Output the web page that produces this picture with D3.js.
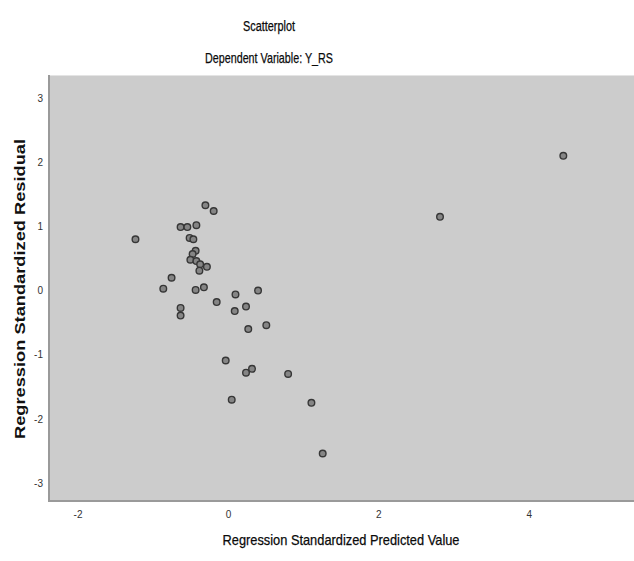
<!DOCTYPE html>
<html><head><meta charset="utf-8">
<script src="https://d3js.org/d3.v7.min.js"></script>
<style>
body{margin:0;background:#fff;}
</style>
</head>
<body>
<script>
// predicted (x) and residual (y) values
predVals=[-1.23,-0.30,-0.19,-0.63,-0.54,-0.42,-0.51,-0.46,-0.43,-0.47,-0.50,-0.42,-0.37,-0.38,-0.28,
  -0.75,-0.86,-0.43,-0.32,-0.63,-0.63,-0.15,0.10,0.09,0.24,0.40,0.27,0.51,-0.03,0.24,0.32,0.80,0.05,1.11,1.26,2.82,4.46];
residVals=[0.80,1.33,1.24,0.99,0.99,1.02,0.82,0.80,0.62,0.57,0.48,0.46,0.41,0.31,0.37,
  0.20,0.03,0.01,0.05,-0.27,-0.39,-0.18,-0.06,-0.32,-0.25,0.00,-0.60,-0.54,-1.09,-1.28,-1.22,-1.30,-1.70,-1.75,-2.54,1.15,2.10];
xTicks=[-2,0,2,4];
yTicks=[-3,-2,-1,0,1,2,3];

var W=634,H=561;
// plot box (note: "top" is taken by window.top, so prefix them)
var pL=49,pR=634,pT=75,pB=501;

var svg=d3.select("body").append("svg")
.attr("width",W)
.attr("height",H);

var x=d3.scaleLinear().domain([-2.38,5.40]).range([pL,pR]);
var y=d3.scaleLinear().domain([-3.28,3.36]).range([pB,pT]);

svg.append("rect")
.attr("x",pL).attr("y",pT)
.attr("width",pR-pL).attr("height",pB-pT)
.attr("fill","#cccccc");

// top edge lighter, left & bottom darker
svg.append("line").attr("x1",pL).attr("x2",pR).attr("y1",pT+0.5).attr("y2",pT+0.5)
.attr("stroke","#e4e4e4").attr("stroke-width",1);
svg.append("line").attr("x1",pL).attr("x2",pL).attr("y1",pT).attr("y2",pB+1)
.attr("stroke","#9a9a9a").attr("stroke-width",2);
svg.append("line").attr("x1",pL-1).attr("x2",pR).attr("y1",pB).attr("y2",pB)
.attr("stroke","#9a9a9a").attr("stroke-width",2);

var narrow="'Liberation Sans Narrow','Arial Narrow','Liberation Sans',Arial,sans-serif";
// SPSS prints a plain hyphen, not the unicode minus
var fmt=function(d){return String(d);};

var gx=svg.append("g")
.attr("transform","translate(0,"+(pB+1)+")")
.call(d3.axisBottom(x).tickValues(xTicks).tickSize(0).tickPadding(9).tickFormat(fmt));
var gy=svg.append("g")
.attr("transform","translate("+pL+",0)")
.call(d3.axisLeft(y).tickValues(yTicks).tickSize(0).tickPadding(6).tickFormat(fmt));

[gx,gy].forEach(function(g){
  g.select(".domain").remove();
  g.selectAll("text")
  .attr("font-family",narrow)
  .attr("font-size","10px")
  .attr("fill","#333");
});

svg.selectAll("circle.pt")
.data(predVals)
.enter()
.append("circle")
.attr("class","pt")
.attr("cx",function(d){return x(d);})
.attr("cy",function(d,i){return y(residVals[i]);})
.attr("r",3.3)
.attr("fill","#858585")
.attr("stroke","#363636")
.attr("stroke-width",1.4);

// titles - squeezed to the narrow look of the original
function label(txt,xx,yy,size,len){
  return svg.append("text")
  .attr("x",xx).attr("y",yy)
  .attr("text-anchor","middle")
  .attr("font-family",narrow)
  .attr("font-size",size)
  .attr("fill","#0a0a0a")
  .attr("stroke","#0a0a0a")
  .attr("stroke-width",0.25)
  .attr("textLength",len)
  .attr("lengthAdjust","spacingAndGlyphs")
  .text(txt);
}
label("Scatterplot",269,31,"14px",52);
label("Dependent Variable: Y_RS",269,63,"15px",128);
label("Regression Standardized Predicted Value",341,545,"15px",237);

svg.append("text")
.attr("transform","translate(25,289) rotate(-90)")
.attr("text-anchor","middle")
.attr("font-family","'Liberation Sans',Arial,sans-serif")
.attr("font-weight","bold")
.attr("font-size","15px")
.attr("fill","#111")
.attr("textLength",300)
.attr("lengthAdjust","spacingAndGlyphs")
.text("Regression Standardized Residual");
</script>
</body></html>
